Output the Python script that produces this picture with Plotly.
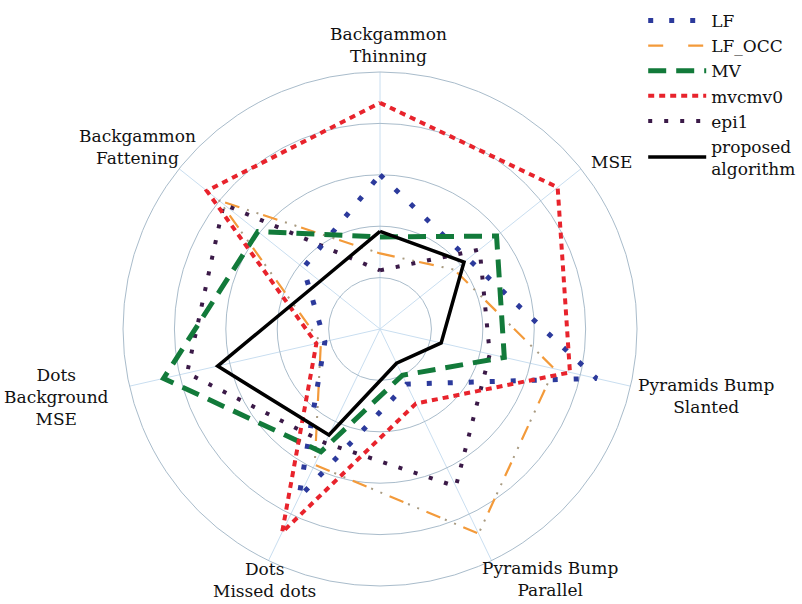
import plotly.graph_objects as go

# Evaluation criteria (angular categories, clockwise from the top)
criteria = [
    "Backgammon<br>Thinning",
    "MSE",
    "Pyramids Bump<br>Slanted",
    "Pyramids Bump<br>Parallel",
    "Dots<br>Missed dots",
    "Dots<br>Background<br>MSE",
    "Backgammon<br>Fattening",
]

# Scores of each method on every criterion
lf = [3.00, 2.19, 4.32, 1.19, 3.64, 1.10, 1.91]
lf_occ = [1.47, 1.85, 3.48, 4.42, 2.93, 1.18, 4.01]
mv = [1.79, 2.90, 2.48, 1.00, 2.65, 4.32, 3.04]
mvcmv0 = [4.40, 4.42, 3.79, 1.61, 4.39, 1.27, 4.31]
epi1 = [1.14, 2.48, 2.19, 3.40, 2.46, 3.85, 3.89]
proposed = [1.90, 2.09, 1.22, 0.74, 2.29, 3.24, 1.49]

# Paper positions of the criterion captions around the outer ring
caption_xy = [
    (0.484, 0.925),
    (0.762, 0.732),
    (0.880, 0.344),
    (0.686, 0.042),
    (0.330, 0.040),
    (0.070, 0.343),
    (0.171, 0.757),
]

FONT = "DejaVu Serif"


def closed(values):
    return values + values[:1]


theta = closed(criteria)
fig = go.Figure()

# LF_OCC: orange dashes plus grey double dots sharing one path
fig.add_trace(go.Scatterpolar(
    r=closed(lf_occ), theta=theta, mode="lines", name="LF_OCC",
    line=dict(color="#f39a3a", width=2.2, dash="15px,25px"),
    legendrank=2,
))
fig.add_trace(go.Scatterpolar(
    r=closed(lf_occ), theta=theta, mode="lines", showlegend=False,
    line=dict(color="#a89a80", width=2, dash="0px,23px,2px,8px,2px,5px"),
    hoverinfo="skip",
))
fig.add_trace(go.Scatterpolar(
    r=closed(epi1), theta=theta, mode="lines", name="epi1",
    line=dict(color="#3b1a48", width=4, dash="4px,12px"),
    legendrank=5,
))
fig.add_trace(go.Scatterpolar(
    r=closed(lf), theta=theta, mode="lines", name="LF",
    line=dict(color="#2c3a9c", width=5, dash="5px,16px"),
    legendrank=1,
))
fig.add_trace(go.Scatterpolar(
    r=closed(mv), theta=theta, mode="lines", name="MV",
    line=dict(color="#127a3a", width=5, dash="18px,10px"),
    legendrank=3,
))
fig.add_trace(go.Scatterpolar(
    r=closed(mvcmv0), theta=theta, mode="lines", name="mvcmv0",
    line=dict(color="#e8232c", width=4, dash="6px,5px"),
    legendrank=4,
))
fig.add_trace(go.Scatterpolar(
    r=closed(proposed), theta=theta, mode="lines", name="proposed<br>algorithm",
    line=dict(color="#000000", width=3.5),
    legendrank=6,
))

ring = "#a9bccb"
spoke = "#c9def0"

for label, (x, y) in zip(criteria, caption_xy):
    fig.add_annotation(
        x=x, y=y, xref="paper", yref="paper", text=label, showarrow=False,
        align="center", xanchor="center", yanchor="middle",
        font=dict(family=FONT, size=17, color="#111111"),
    )

fig.update_layout(
    width=802, height=604,
    margin=dict(l=0, r=0, t=0, b=0),
    paper_bgcolor="white",
    font=dict(family=FONT, size=17, color="#111111"),
    polar=dict(
        domain=dict(x=[0.1534, 0.7943], y=[0.0298, 0.8808]),
        bgcolor="white",
        radialaxis=dict(
            range=[0, 5], dtick=1, showticklabels=False, ticks="",
            showline=False, gridcolor=ring, gridwidth=1,
        ),
        angularaxis=dict(
            rotation=90, direction="clockwise",
            showline=True, linecolor=ring, linewidth=1,
            gridcolor=spoke, gridwidth=1, ticks="", showticklabels=False,
        ),
    ),
    legend=dict(
        x=0.802, y=0.995, xanchor="left", yanchor="top",
        itemwidth=58,
        font=dict(family=FONT, size=17, color="#111111"),
        bgcolor="rgba(0,0,0,0)", tracegroupgap=0,
    ),
)

fig.write_html("out.html")
